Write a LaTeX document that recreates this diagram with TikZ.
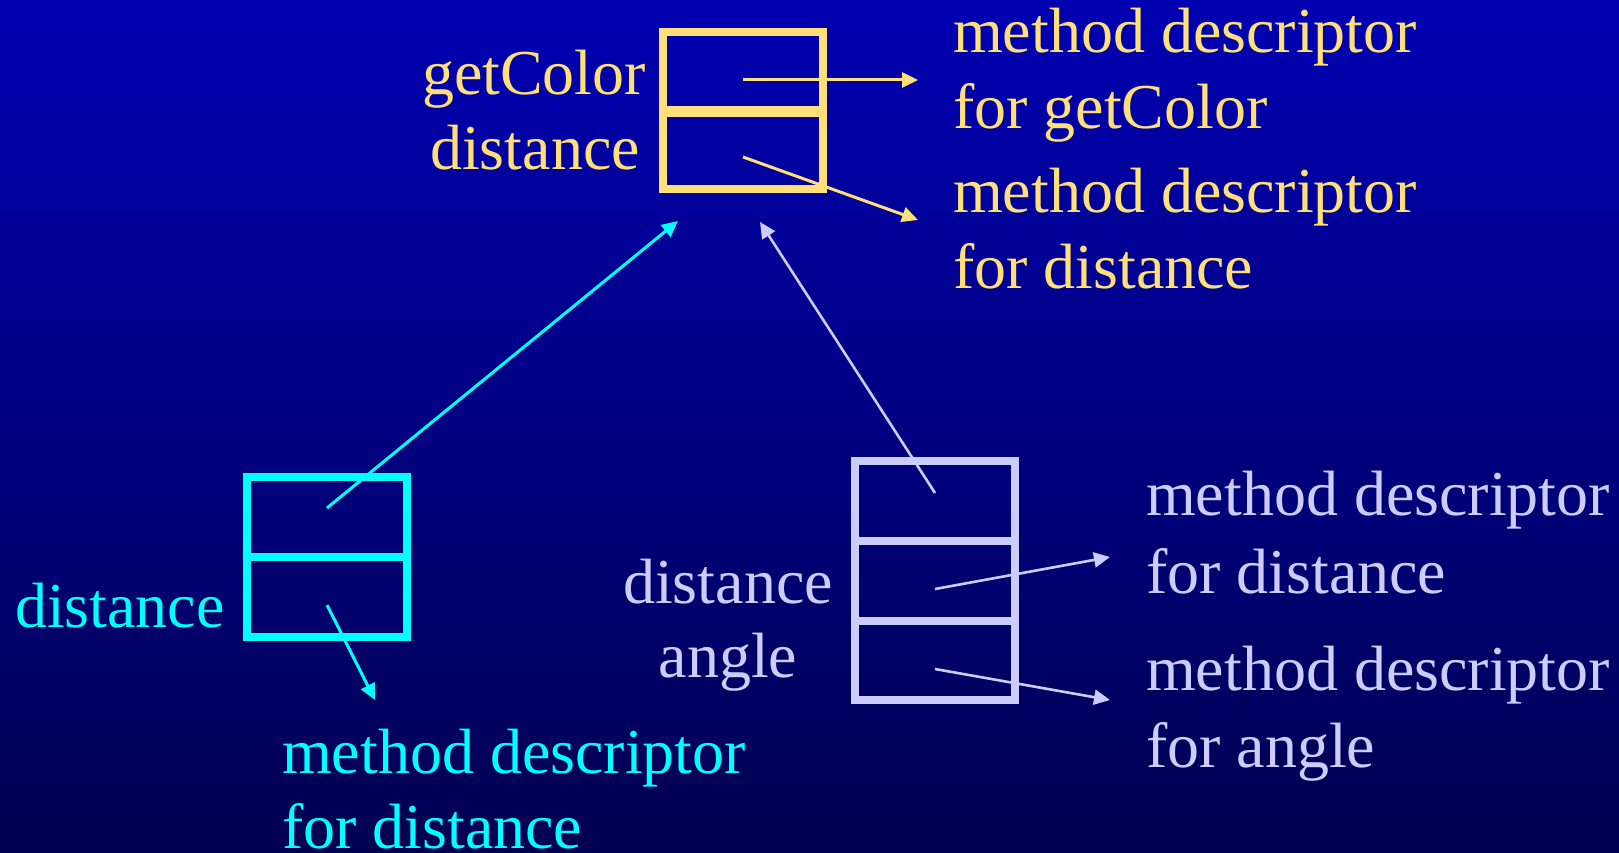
\documentclass[tikz,border=0pt]{standalone}
\usepackage{fontspec}
\setmainfont{Liberation Serif}
\usetikzlibrary{arrows.meta}
\definecolor{bgtop}{RGB}{0,0,178}
\definecolor{bgbot}{RGB}{0,0,80}
\definecolor{ygold}{RGB}{255,224,120}
\definecolor{lav}{RGB}{204,204,255}
\definecolor{cyn}{RGB}{0,255,255}
\newcommand\dfont{\fontsize{64}{76}\selectfont}
\tikzset{
  lbl/.style={inner sep=0pt, outer sep=0pt, font=\dfont},
  cell/.style={draw, line width=8pt, minimum width=160pt, inner sep=0pt, outer sep=0pt},
  ptr/.style={line width=3pt, -{Triangle[length=16pt,width=15pt]}, shorten >=0pt}
}
\begin{document}
\begin{tikzpicture}[x=1pt,y=-1pt]
\useasboundingbox (0,0) rectangle (1619,853);
\shade[top color=bgtop, bottom color=bgbot] (0,0) rectangle (1619,853);

% ---------- yellow object ----------
\node[cell, draw=ygold, minimum height=78pt] (y1) at (743,71) {};
\node[cell, draw=ygold, minimum height=76pt] (y2) at (743,151) {};
\node[lbl, text=ygold, anchor=base] (yl1) at (534,95) {getColor};
\node[lbl, text=ygold, anchor=base] (yl2) at (535,170) {distance};
\node[lbl, text=ygold, anchor=base west] (yd1) at (953,53) {method descriptor};
\node[lbl, text=ygold, anchor=base west] (yd2) at (953,129) {for getColor};
\node[lbl, text=ygold, anchor=base west] (yd3) at (953,212) {method descriptor};
\node[lbl, text=ygold, anchor=base west] (yd4) at (953,288) {for distance};
\coordinate (ys1) at (743,80);
\coordinate (ys2) at (743,157);
\coordinate (ye1) at (918,80);
\coordinate (ye2) at (918,220);
\draw[ptr, draw=ygold, fill=ygold] (ys1) -- (ye1);
\draw[ptr, draw=ygold, fill=ygold] (ys2) -- (ye2);

% ---------- cyan object ----------
\node[cell, draw=cyn, minimum height=80pt] (c1) at (327,517) {};
\node[cell, draw=cyn, minimum height=80pt] (c2) at (327,597) {};
\node[lbl, text=cyn, anchor=base west] (cl1) at (15,627) {distance};
\node[lbl, text=cyn, anchor=base west] (cd1) at (282,773) {method descriptor};
\node[lbl, text=cyn, anchor=base west] (cd2) at (282,848) {for distance};
\coordinate (cs1) at (327,508);
\coordinate (cs2) at (327,605);
\coordinate (ce1) at (678,221);
\coordinate (ce2) at (375,700);
\draw[ptr, draw=cyn, fill=cyn] (cs1) -- (ce1);
\draw[ptr, draw=cyn, fill=cyn] (cs2) -- (ce2);

% ---------- lavender object ----------
\node[cell, draw=lav, minimum height=80pt] (l1) at (935,501) {};
\node[cell, draw=lav, minimum height=80pt] (l2) at (935,581) {};
\node[cell, draw=lav, minimum height=79pt] (l3) at (935,660.5) {};
\node[lbl, text=lav, anchor=base] (ll1) at (728,603) {distance};
\node[lbl, text=lav, anchor=base] (ll2) at (728,677) {angle};
\node[lbl, text=lav, anchor=base west] (ld1) at (1146,515) {method descriptor};
\node[lbl, text=lav, anchor=base west] (ld2) at (1146,593) {for distance};
\node[lbl, text=lav, anchor=base west] (ld3) at (1146,690) {method descriptor};
\node[lbl, text=lav, anchor=base west] (ld4) at (1146,767) {for angle};
\coordinate (ls1) at (935,493);
\coordinate (ls2) at (935,589);
\coordinate (ls3) at (935,669);
\coordinate (le1) at (760,222);
\coordinate (le2) at (1110,557);
\coordinate (le3) at (1110,700);
\draw[ptr, draw=lav, fill=lav, line width=2.6pt] (ls1) -- (le1);
\draw[ptr, draw=lav, fill=lav, line width=2.6pt] (ls2) -- (le2);
\draw[ptr, draw=lav, fill=lav, line width=2.6pt] (ls3) -- (le3);
\end{tikzpicture}
\end{document}
